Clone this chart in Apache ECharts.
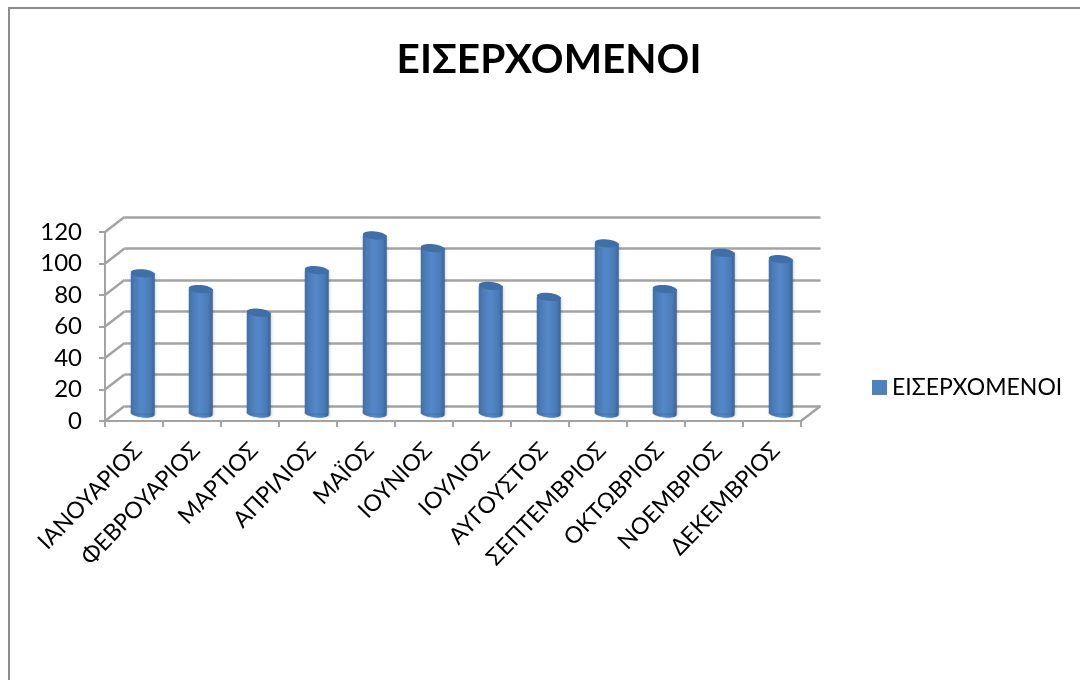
<!DOCTYPE html>
<html><head><meta charset="utf-8">
<style>html,body{margin:0;padding:0;background:#fff}#c{width:1080px;height:680px}</style>
<script src="https://cdn.jsdelivr.net/npm/echarts@6/dist/echarts.min.js"></script>
</head><body><div id="c"></div>
<script>
const categories = ['ΙΑΝΟΥΑΡΙΟΣ','ΦΕΒΡΟΥΑΡΙΟΣ','ΜΑΡΤΙΟΣ','ΑΠΡΙΛΙΟΣ','ΜΑΪΟΣ','ΙΟΥΝΙΟΣ','ΙΟΥΛΙΟΣ','ΑΥΓΟΥΣΤΟΣ','ΣΕΠΤΕΜΒΡΙΟΣ','ΟΚΤΩΒΡΙΟΣ','ΝΟΕΜΒΡΙΟΣ','ΔΕΚΕΜΒΡΙΟΣ'];
const values = [89,79,64,91,113,105,81,74,108,79,102,98];
const yTicks = [0,20,40,60,80,100,120];
const seriesName = 'ΕΙΣΕΡΧΟΜΕΝΟΙ';
const FONT = 'Lato,"Open Sans","Noto Sans",sans-serif';
const GRAY = '#a3a3a3';
const DX = 19.5, DY = -15;
const chart = echarts.init(document.getElementById('c'), null, {renderer:'canvas'});
function xA(i, line, labels){return {gridIndex:i,type:'category',data:categories,boundaryGap:true,show:line||labels,
  axisLine:{show:line,lineStyle:{color:GRAY,width:2}},
  axisTick:{show:line,alignWithLabel:false,length:6,lineStyle:{color:GRAY,width:2}},
  axisLabel:{show:labels,interval:0,rotate:46,margin:28,padding:[0,7,0,0],color:'#000',fontFamily:FONT,fontSize:23}};}
function yA(i, show, grid){return {gridIndex:i,type:'value',min:0,max:120,interval:20,show:show||grid,
  axisLine:{show:show,lineStyle:{color:GRAY,width:2}},
  axisTick:{show:show,length:6,lineStyle:{color:GRAY,width:2}},
  axisLabel:{show:show,margin:23,color:'#000',fontFamily:FONT,fontSize:24,padding:[10,0,0,0]},
  splitLine:{show:grid,lineStyle:{color:GRAY,width:2.5}}};}
chart.setOption({
  animation:false,backgroundColor:'#fff',
  title:{text:seriesName,left:544,top:34,textAlign:'center',textStyle:{fontFamily:FONT,fontSize:40.6,fontWeight:'bold',color:'#000'}},
  legend:{data:[seriesName],left:867,top:371,icon:'rect',itemWidth:15,itemHeight:15,itemGap:7,
    textStyle:{fontFamily:FONT,fontSize:23,color:'#000'}},
  grid:[
    {left:105,top:232,width:696,height:189},
    {left:105+DX,top:232+DY,width:696,height:189},
    {left:104+DX/2,top:232+DY/2,width:696,height:189}
  ],
  xAxis:[xA(0,true,false),xA(1,false,false),xA(2,false,true)],
  yAxis:[yA(0,true,false),yA(1,false,true),yA(2,false,false)],
  series:[
    {type:'custom',name:'walls',xAxisIndex:0,yAxisIndex:0,coordinateSystem:'cartesian2d',silent:true,z:2,
     data:yTicks.map(v=>[0,v]).concat([[11,0]]),
     renderItem:function(p,api){
       const idx=api.value(0), c=api.coord([idx,api.value(1)]), band=api.size([1,0])[0];
       const x=idx===0?c[0]-band/2:c[0]+band/2;
       return {type:'line',shape:{x1:x,y1:c[1],x2:x+DX,y2:c[1]+DY},style:{stroke:GRAY,lineWidth:2.5}};
     }},
    {type:'custom',name:seriesName,xAxisIndex:2,yAxisIndex:2,coordinateSystem:'cartesian2d',z:5,
     itemStyle:{color:'#4F81BD'},
     data:values.map((v,i)=>[i,v]),
     encode:{x:0,y:1},
     renderItem:function(p,api){
       const top=api.coord([api.value(0),api.value(1)]), base=api.coord([api.value(0),0]);
       const w=24, rx=w/2, ry=4, rot=-0.1;
       const grad=new echarts.graphic.LinearGradient(0,0,1,0,[
         {offset:0,color:'#3f6ea6'},{offset:0.15,color:'#4a7ab5'},{offset:0.45,color:'#5488c8'},
         {offset:0.8,color:'#4a7cb8'},{offset:1,color:'#39659a'}]);
       const sh={shadowBlur:3,shadowColor:'rgba(0,0,0,0.2)',shadowOffsetX:1};
       return {type:'group',children:[
         {type:'ellipse',x:base[0],y:base[1],rotation:rot,shape:{cx:0,cy:0,rx:rx,ry:ry},style:{fill:grad,...sh}},
         {type:'rect',shape:{x:top[0]-rx,y:top[1],width:w,height:base[1]-top[1]},style:{fill:grad,...sh}},
         {type:'ellipse',x:top[0],y:top[1],rotation:rot,shape:{cx:0,cy:0,rx:rx,ry:ry},style:{fill:'#3f6fa6'}}
       ]};
     }}
  ],
  graphic:[
    {type:'line',silent:true,shape:{x1:9,y1:8,x2:9,y2:680},style:{stroke:'#8c8c8c',lineWidth:2}},
    {type:'line',silent:true,shape:{x1:8,y1:8,x2:1080,y2:8},style:{stroke:'#8c8c8c',lineWidth:2}}
  ]
});
</script></body></html>
